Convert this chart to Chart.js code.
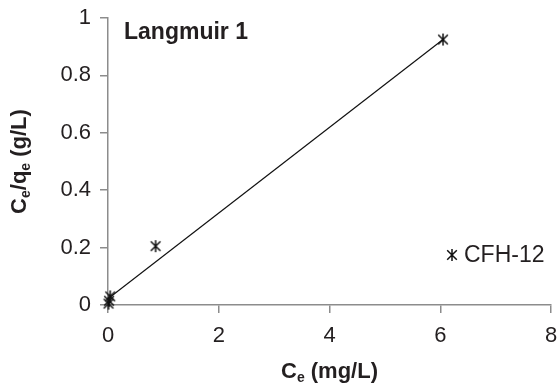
<!DOCTYPE html>
<html>
<head>
<meta charset="utf-8">
<script src="https://cdn.jsdelivr.net/npm/chart.js@4.4.1/dist/chart.umd.min.js"></script>
<style>
    html, body { margin: 0; padding: 0; background: #fff; }
    #wrap { width: 559px; height: 390px; }
</style>
</head>
<body>
<div id="wrap"><canvas id="langmuirChart"></canvas></div>
<script>
const ceValues = [0.01, 0.02, 0.04, 0.86, 6.05];
const ceQeValues = [0.005, 0.015, 0.03, 0.205, 0.925];
const trendX = [0.0, 6.05];
const trendY = [0.022, 0.925];
const xTicks = [0, 2, 4, 6, 8];
const yTicks = [0, 0.2, 0.4, 0.6, 0.8, 1];
const seriesName = "CFH-12";

const FONT = "'Liberation Sans', Arial, sans-serif";
const TEXT = "#231f20";
const AXIS = "#8c8c8c";

// excel style star marker: X with a vertical stroke
function makeStar(size) {
    const c = document.createElement("canvas");
    c.width = size;
    c.height = size;
    const g = c.getContext("2d");
    const m = size / 2, r = size / 2 - 1;
    g.strokeStyle = "#111";
    g.lineWidth = 1.5;
    g.beginPath();
    g.moveTo(m, m - r); g.lineTo(m, m + r);
    g.moveTo(m - r * 0.8, m - r * 0.8); g.lineTo(m + r * 0.8, m + r * 0.8);
    g.moveTo(m + r * 0.8, m - r * 0.8); g.lineTo(m - r * 0.8, m + r * 0.8);
    g.stroke();
    return c;
}
const star = makeStar(14);

function subText(ctx, parts, x, y, size) {
    let cx = x;
    parts.forEach(([t, sub]) => {
        ctx.font = "bold " + (sub ? Math.round(size * 0.62) : size) + "px " + FONT;
        ctx.fillText(t, cx, sub ? y + size * 0.3 : y);
        cx += ctx.measureText(t).width;
    });
    return cx - x;
}

function measureParts(ctx, parts, size) {
    let w = 0;
    parts.forEach(([t, sub]) => {
        ctx.font = "bold " + (sub ? Math.round(size * 0.62) : size) + "px " + FONT;
        w += ctx.measureText(t).width;
    });
    return w;
}

const annotations = {
    id: "annotations",
    afterDraw(chart) {
        const ctx = chart.ctx;
        const area = chart.chartArea;
        ctx.save();
        ctx.fillStyle = TEXT;
        ctx.textBaseline = "middle";
        ctx.textAlign = "left";

        // x axis title
        const xParts = [["C", false], ["e", true], [" (mg/L)", false]];
        const xw = measureParts(ctx, xParts, 22);
        subText(ctx, xParts, (area.left + area.right) / 2 - xw / 2, 372, 22);

        // y axis title, rotated
        const yParts = [["C", false], ["e", true], ["/q", false], ["e", true], [" (g/L)", false]];
        const yw = measureParts(ctx, yParts, 22);
        ctx.save();
        ctx.translate(20, (area.top + area.bottom) / 2);
        ctx.rotate(-Math.PI / 2);
        subText(ctx, yParts, -yw / 2, 0, 22);
        ctx.restore();

        // chart label
        ctx.font = "bold 23px " + FONT;
        ctx.fillText("Langmuir 1", 124, 33);

        // legend
        ctx.drawImage(star, 452 - 7, 255 - 7);
        ctx.font = "23px " + FONT;
        ctx.fillText(seriesName, 464, 256);
        ctx.restore();
    }
};

new Chart(document.getElementById("langmuirChart"), {
    type: "scatter",
    data: {
        datasets: [
            {
                label: seriesName,
                data: ceValues.map((x, i) => ({ x: x, y: ceQeValues[i] })),
                pointStyle: star,
                pointRadius: 7,
                clip: false,
                order: 1
            },
            {
                label: "trend",
                data: trendX.map((x, i) => ({ x: x, y: trendY[i] })),
                showLine: true,
                borderColor: "#111",
                borderWidth: 1.2,
                pointRadius: 0,
                clip: false,
                order: 2
            }
        ]
    },
    options: {
        responsive: true,
        maintainAspectRatio: false,
        animation: false,
        layout: { padding: { top: 18, right: 6, left: 0, bottom: 0 } },
        plugins: {
            legend: { display: false },
            tooltip: { enabled: false }
        },
        scales: {
            x: {
                type: "linear",
                min: xTicks[0],
                max: xTicks[xTicks.length - 1],
                afterBuildTicks: (s) => { s.ticks = xTicks.map(v => ({ value: v })); },
                afterFit: (s) => { s.height = 85; s.paddingLeft = 0; s.paddingRight = 0; },
                ticks: { color: TEXT, font: { family: FONT, size: 22 }, padding: 10, callback: (v) => String(v) },
                grid: { drawOnChartArea: false, color: AXIS, tickLength: 8, lineWidth: 1.5 },
                border: { color: AXIS, width: 1.5 }
            },
            y: {
                type: "linear",
                min: yTicks[0],
                max: yTicks[yTicks.length - 1],
                afterBuildTicks: (s) => { s.ticks = yTicks.map(v => ({ value: v })); },
                afterFit: (s) => { s.width = 108; s.paddingTop = 0; s.paddingBottom = 0; },
                ticks: { color: TEXT, font: { family: FONT, size: 22 }, padding: 9, callback: (v) => String(v) },
                grid: { drawOnChartArea: false, color: AXIS, tickLength: 8, lineWidth: 1.5 },
                border: { color: AXIS, width: 1.5 }
            }
        }
    },
    plugins: [annotations]
});
</script>
</body>
</html>
